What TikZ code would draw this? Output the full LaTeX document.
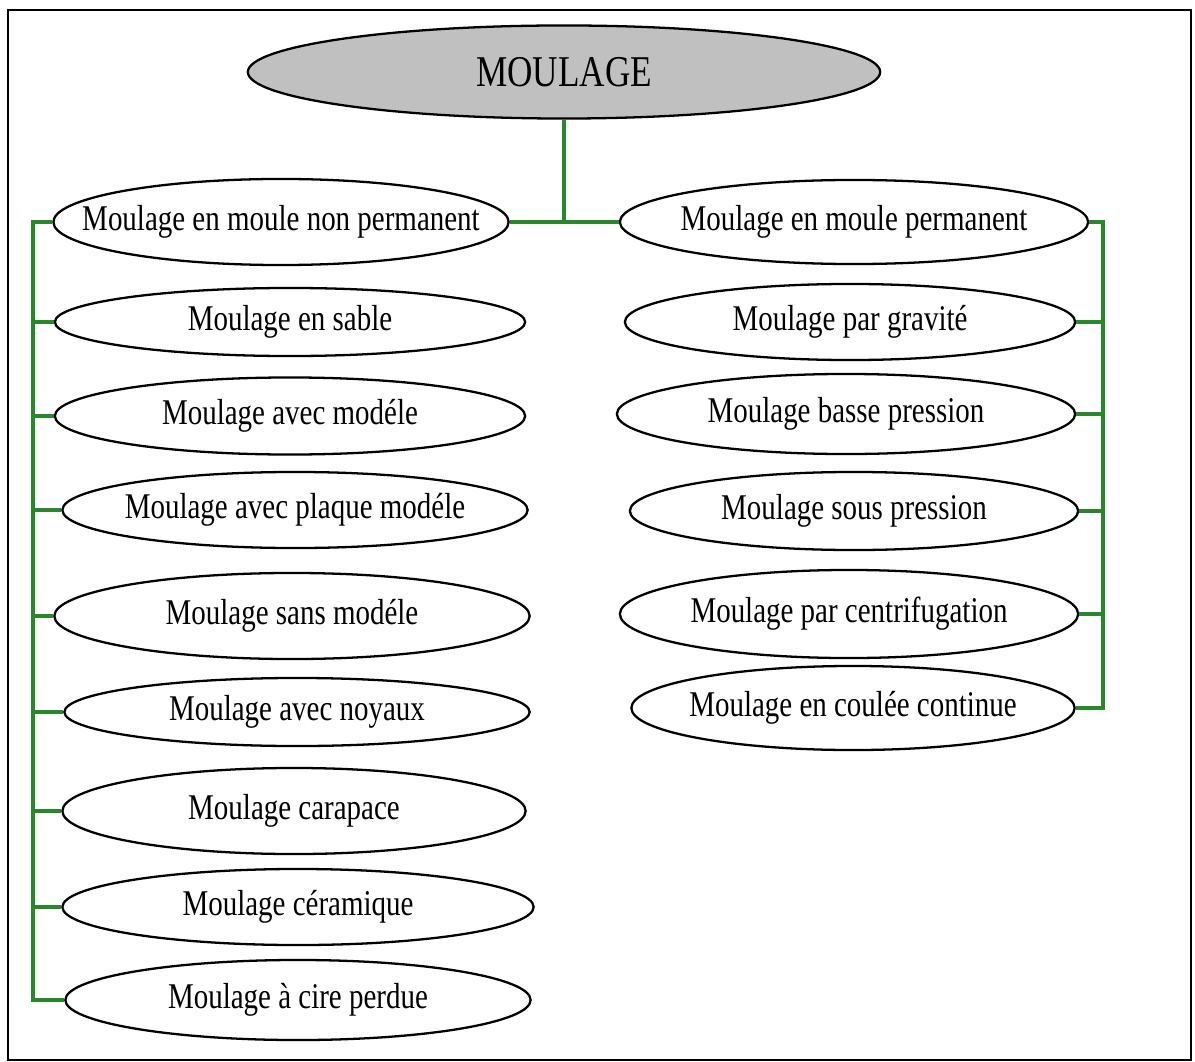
\documentclass[tikz,border=0pt]{standalone}
\usepackage{fontspec}
\setmainfont{Liberation Serif}[FakeStretch=0.8]
\usetikzlibrary{shapes.geometric}
\definecolor{branchgreen}{RGB}{40,135,40}
\definecolor{rootgray}{RGB}{192,192,192}
\newcommand{\ovaltext}[1]{\makebox[0pt]{#1}}
\begin{document}
\begin{tikzpicture}[x=0.01cm,y=-0.01cm,
    oval/.style={ellipse,draw,line width=0.65pt,inner sep=0pt,font=\fontsize{10.3}{12}\selectfont},
    link/.style={draw=branchgreen,line width=0.9pt}]
     \useasboundingbox (0,0) rectangle (1195,1061);
     \draw [line width=0.6pt] (8,10) rectangle (1191,1060);
     \node [oval,fill=rootgray,minimum width=6.32cm,minimum height=0.93cm,font=\fontsize{12.5}{14}\selectfont] (moulage) at (564,72) {\ovaltext{MOULAGE}};
     % moule non permanent
     \node [oval,minimum width=4.55cm,minimum height=0.86cm] (nonperm) at (281,222) {\ovaltext{Moulage en moule non permanent}};
     \node [oval,minimum width=4.70cm,minimum height=0.68cm] (sable) at (290,322) {\ovaltext{Moulage en sable}};
     \node [oval,minimum width=4.70cm,minimum height=0.77cm] (avecmod) at (290,416) {\ovaltext{Moulage avec modéle}};
     \node [oval,minimum width=4.65cm,minimum height=0.76cm] (plaque) at (295,510) {\ovaltext{Moulage avec plaque modéle}};
     \node [oval,minimum width=4.75cm,minimum height=0.86cm] (sansmod) at (292,616) {\ovaltext{Moulage sans modéle}};
     \node [oval,minimum width=4.65cm,minimum height=0.68cm] (noyaux) at (297,712) {\ovaltext{Moulage avec noyaux}};
     \node [oval,minimum width=4.63cm,minimum height=0.86cm] (carapace) at (294,811) {\ovaltext{Moulage carapace}};
     \node [oval,minimum width=4.71cm,minimum height=0.76cm] (ceramique) at (298,907) {\ovaltext{Moulage céramique}};
     \node [oval,minimum width=4.65cm,minimum height=0.80cm] (cire) at (298,1000) {\ovaltext{Moulage à cire perdue}};
     % moule permanent
     \node [oval,minimum width=4.68cm,minimum height=0.84cm] (perm) at (854,222) {\ovaltext{Moulage en moule permanent}};
     \node [oval,minimum width=4.50cm,minimum height=0.76cm] (gravite) at (850,322) {\ovaltext{Moulage par gravité}};
     \node [oval,minimum width=4.58cm,minimum height=0.80cm] (basse) at (846,414) {\ovaltext{Moulage basse pression}};
     \node [oval,minimum width=4.48cm,minimum height=0.78cm] (souspr) at (854,511) {\ovaltext{Moulage sous pression}};
     \node [oval,minimum width=4.58cm,minimum height=0.88cm] (centri) at (849,614) {\ovaltext{Moulage par centrifugation}};
     \node [oval,minimum width=4.43cm,minimum height=0.84cm] (continue) at (853,708) {\ovaltext{Moulage en coulée continue}};
     % branches
     \coordinate (lbus) at (33,0);
     \coordinate (rbus) at (1103,0);
     \draw [link] (nonperm.east) -- (perm.west);
     \draw [link] (moulage.south) -- (moulage.south |- nonperm.east);
     \draw [link] (nonperm.west) -- (nonperm.west -| lbus) -- (cire.west -| lbus) -- (cire.west);
     \draw [link] (sable.west) -- (sable.west -| lbus);
     \draw [link] (avecmod.west) -- (avecmod.west -| lbus);
     \draw [link] (plaque.west) -- (plaque.west -| lbus);
     \draw [link] (sansmod.west) -- (sansmod.west -| lbus);
     \draw [link] (noyaux.west) -- (noyaux.west -| lbus);
     \draw [link] (carapace.west) -- (carapace.west -| lbus);
     \draw [link] (ceramique.west) -- (ceramique.west -| lbus);
     \draw [link] (perm.east) -- (perm.east -| rbus) -- (continue.east -| rbus) -- (continue.east);
     \draw [link] (gravite.east) -- (gravite.east -| rbus);
     \draw [link] (basse.east) -- (basse.east -| rbus);
     \draw [link] (souspr.east) -- (souspr.east -| rbus);
     \draw [link] (centri.east) -- (centri.east -| rbus);
\end{tikzpicture}
\end{document}
